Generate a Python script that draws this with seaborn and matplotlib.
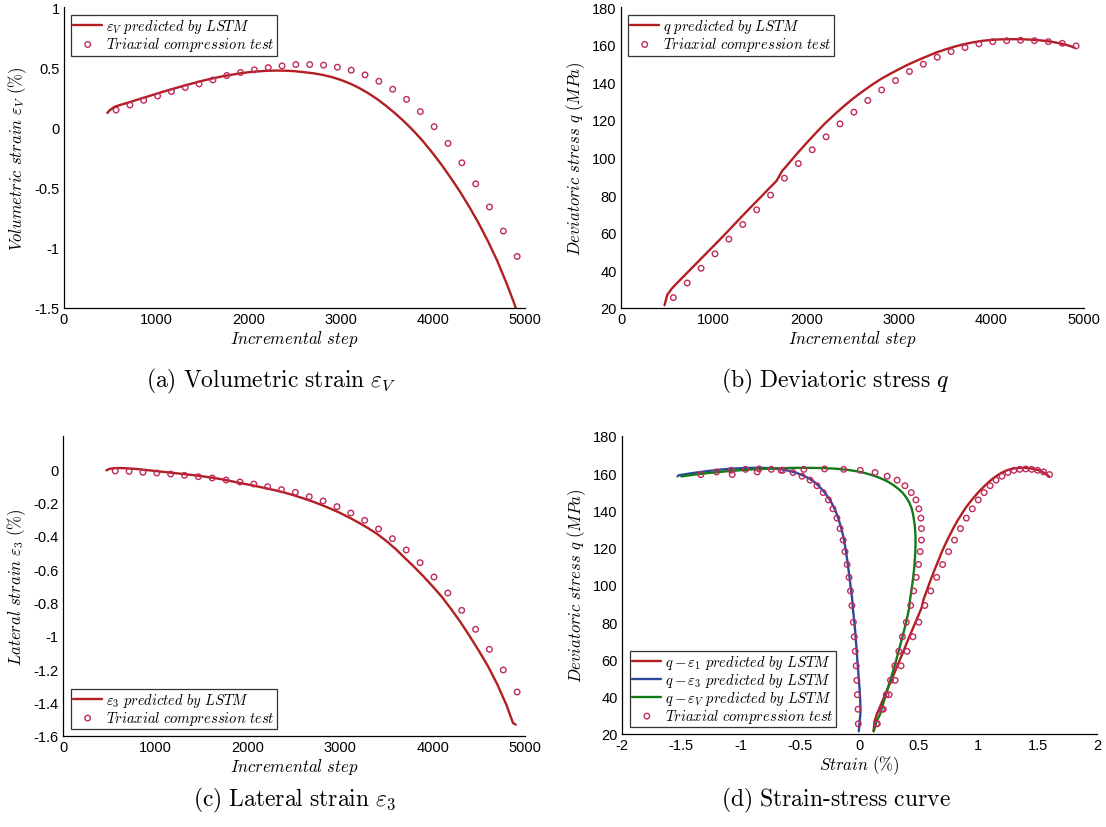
import numpy as np
import pandas as pd
import matplotlib
matplotlib.use("Agg")
import matplotlib.pyplot as plt
import seaborn as sns
from matplotlib.ticker import FuncFormatter

# ---------------- data ----------------
step_pred = [470, 500, 550, 600, 700, 800, 900, 1000, 1100, 1200, 1300, 1400, 1500, 1600,
             1680, 1740, 1800, 1900, 2000, 2100, 2200, 2300, 2400, 2500, 2600, 2700, 2800,
             2900, 3000, 3100, 3200, 3300, 3400, 3500, 3600, 3700, 3800, 3900, 4000, 4100,
             4200, 4300, 4400, 4500, 4600, 4700, 4800, 4870, 4900]
epsV_pred = [0.120, 0.145, 0.172, 0.184, 0.207, 0.231, 0.255, 0.279, 0.302, 0.324, 0.346,
             0.367, 0.387, 0.405, 0.418, 0.427, 0.435, 0.448, 0.458, 0.465, 0.470, 0.472,
             0.471, 0.467, 0.459, 0.450, 0.437, 0.419, 0.395, 0.365, 0.328, 0.284, 0.233,
             0.175, 0.111, 0.041, -0.036, -0.121, -0.215, -0.316, -0.425, -0.540, -0.665,
             -0.800, -0.948, -1.110, -1.295, -1.435, -1.500]
q_pred = [21.5, 27.0, 30.4, 33.0, 38.0, 43.0, 48.0, 53.0, 58.0, 63.2, 68.4, 73.5, 78.5,
          83.6, 87.6, 92.8, 96.2, 102.0, 107.5, 112.8, 118.0, 122.6, 127.0, 131.1, 134.8,
          138.3, 141.5, 144.3, 146.9, 149.4, 151.6, 153.7, 155.7, 157.4, 158.9, 160.2,
          161.2, 162.0, 162.5, 162.8, 162.9, 162.9, 162.7, 162.4, 161.9, 161.1, 160.0,
          158.9, 158.3]
eps3_pred = [-0.006, 0.002, 0.007, 0.008, 0.006, 0.002, -0.004, -0.010, -0.016, -0.022,
             -0.028, -0.034, -0.041, -0.049, -0.056, -0.062, -0.069, -0.080, -0.091, -0.102,
             -0.114, -0.126, -0.140, -0.156, -0.174, -0.193, -0.214, -0.237, -0.262, -0.290,
             -0.320, -0.352, -0.388, -0.430, -0.478, -0.532, -0.585, -0.642, -0.702, -0.765,
             -0.838, -0.915, -1.000, -1.088, -1.182, -1.290, -1.415, -1.522, -1.532]
eps1_pred = [0.118, 0.128, 0.145, 0.162, 0.195, 0.228, 0.262, 0.295, 0.328, 0.362, 0.395,
             0.428, 0.462, 0.495, 0.522, 0.542, 0.562, 0.595, 0.628, 0.662, 0.695, 0.728,
             0.762, 0.795, 0.828, 0.862, 0.895, 0.928, 0.962, 0.995, 1.028, 1.062, 1.095,
             1.128, 1.162, 1.195, 1.228, 1.262, 1.295, 1.328, 1.362, 1.395, 1.428, 1.462,
             1.495, 1.528, 1.562, 1.585, 1.595]

step_test = [565, 715, 865, 1015, 1165, 1315, 1465, 1615, 1765, 1915, 2065, 2215, 2365,
             2515, 2665, 2815, 2965, 3115, 3265, 3415, 3565, 3715, 3865, 4015, 4165, 4315,
             4465, 4615, 4765, 4915]
epsV_test = [0.144, 0.186, 0.225, 0.261, 0.297, 0.331, 0.361, 0.394, 0.431, 0.456, 0.478,
             0.497, 0.511, 0.522, 0.522, 0.517, 0.500, 0.475, 0.436, 0.383, 0.317, 0.233,
             0.131, 0.006, -0.133, -0.294, -0.469, -0.661, -0.861, -1.072]
q_test = [25.5, 33.3, 41.1, 48.8, 56.6, 64.4, 72.2, 80.0, 89.0, 96.8, 104.1, 111.0, 117.9,
          124.1, 130.3, 135.9, 140.9, 145.7, 149.6, 153.3, 156.3, 158.4, 160.4, 161.6,
          162.1, 162.3, 162.1, 161.6, 160.7, 159.3]
eps3_test = [-0.010, -0.012, -0.018, -0.022, -0.028, -0.036, -0.044, -0.052, -0.064, -0.076,
             -0.088, -0.104, -0.122, -0.138, -0.164, -0.190, -0.224, -0.262, -0.306, -0.358,
             -0.416, -0.484, -0.560, -0.646, -0.742, -0.846, -0.960, -1.080, -1.204, -1.336]
eps1_test = [0.15, 0.20, 0.25, 0.30, 0.35, 0.40, 0.45, 0.50, 0.55, 0.60, 0.65, 0.70, 0.75,
             0.80, 0.85, 0.90, 0.95, 1.00, 1.05, 1.10, 1.15, 1.20, 1.25, 1.30, 1.35, 1.40,
             1.45, 1.50, 1.55, 1.60]

captions = [r"$\mathrm{(a)\ Volumetric\ strain}\ \varepsilon_V$",
            r"$\mathrm{(b)\ Deviatoric\ stress}\ q$",
            r"$\mathrm{(c)\ Lateral\ strain}\ \varepsilon_3$",
            r"$\mathrm{(d)\ Strain\text{-}stress\ curve}$"]

pred = pd.DataFrame({"step": step_pred, "epsV": epsV_pred, "q": q_pred,
                     "eps3": eps3_pred, "eps1": eps1_pred})
test = pd.DataFrame({"step": step_test, "epsV": epsV_test, "q": q_test,
                     "eps3": eps3_test, "eps1": eps1_test})

# ---------------- style ----------------
sns.set_theme(style="white")
plt.rcParams.update({
    "font.family": ["Liberation Sans", "DejaVu Sans"],
    "mathtext.fontset": "cm",
    "axes.unicode_minus": False,
    "axes.edgecolor": "black",
    "axes.linewidth": 0.9,
    "xtick.color": "black",
    "ytick.color": "black",
    "text.color": "black",
    "axes.labelcolor": "black",
})

RED = "#B21E22"
BLUE = "#2B4A98"
GREEN = "#137A17"
MARK = "#C02A5C"
LW = 1.7

W, H = 1106, 828
fig = plt.figure(figsize=(W / 100, H / 100), dpi=100)


def box(l, t, r, b):
    return [l / W, 1 - b / H, (r - l) / W, (b - t) / H]


fmt = FuncFormatter(lambda v, p: f"{(0 if abs(v) < 1e-9 else v):g}")


def style(ax, xlim, ylim, xticks, yticks, xlabel, ylabel):
    ax.set_xlim(xlim)
    ax.set_ylim(ylim)
    ax.set_xticks(xticks)
    ax.set_yticks(yticks)
    ax.xaxis.set_major_formatter(fmt)
    ax.yaxis.set_major_formatter(fmt)
    sns.despine(ax=ax)
    ax.tick_params(direction="in", length=4, width=0.8, labelsize=10.5, pad=3,
                   colors="black")
    ax.set_xlabel(xlabel, fontsize=12, labelpad=1)
    ax.set_ylabel(ylabel, fontsize=12, labelpad=4)


def legend(ax, loc, anchor):
    leg = ax.legend(loc=loc, bbox_to_anchor=anchor, borderaxespad=0, fontsize=10.5,
                    frameon=True, fancybox=False, edgecolor="#333333", framealpha=1,
                    handlelength=2.0, handletextpad=0.25, labelspacing=0.0,
                    borderpad=0.15)
    leg.get_frame().set_linewidth(0.9)
    return leg


def markers(ax, x, y, label=r"$Triaxial\ compression\ test$"):
    sns.scatterplot(data=test, x=x, y=y, ax=ax, marker="o", color=MARK, facecolor="none",
                    edgecolor=MARK, linewidth=1.0, s=16, zorder=3, label=label)


# (a)
ax_a = fig.add_axes(box(64, 8, 525, 309))
sns.lineplot(data=pred, x="step", y="epsV", ax=ax_a, color=RED, lw=LW, sort=False,
             estimator=None, label=r"$\varepsilon_V\ predicted\ by\ LSTM$")
markers(ax_a, "step", "epsV")
style(ax_a, (0, 5000), (-1.5, 1), np.arange(0, 5001, 1000), np.arange(-1.5, 1.01, 0.5),
      r"$Incremental\ step$", r"$Volumetric\ strain\ \varepsilon_V\ (\%)$")
legend(ax_a, "upper left", (0.015, 0.973))

# (b)
ax_b = fig.add_axes(box(621, 8, 1084, 309))
sns.lineplot(data=pred, x="step", y="q", ax=ax_b, color=RED, lw=LW, sort=False,
             estimator=None, label=r"$q\ predicted\ by\ LSTM$")
markers(ax_b, "step", "q")
style(ax_b, (0, 5000), (20, 180), np.arange(0, 5001, 1000), np.arange(20, 181, 20),
      r"$Incremental\ step$", r"$Deviatoric\ stress\ q\ (MPa)$")
legend(ax_b, "upper left", (0.015, 0.973))

# (c)
ax_c = fig.add_axes(box(63, 437, 525, 737))
sns.lineplot(data=pred, x="step", y="eps3", ax=ax_c, color=RED, lw=LW, sort=False,
             estimator=None, label=r"$\varepsilon_3\ predicted\ by\ LSTM$")
markers(ax_c, "step", "eps3")
style(ax_c, (0, 5000), (-1.6, 0.2), np.arange(0, 5001, 1000), np.arange(-1.6, 0.01, 0.2),
      r"$Incremental\ step$", r"$Lateral\ strain\ \varepsilon_3\ (\%)$")
legend(ax_c, "lower left", (0.017, 0.023))

# (d)
ax_d = fig.add_axes(box(622, 437, 1097, 735))
sns.lineplot(data=pred, x="eps1", y="q", ax=ax_d, color=RED, lw=LW, sort=False,
             estimator=None, label=r"$q-\varepsilon_1\ predicted\ by\ LSTM$")
sns.lineplot(data=pred, x="eps3", y="q", ax=ax_d, color=BLUE, lw=LW, sort=False,
             estimator=None, label=r"$q-\varepsilon_3\ predicted\ by\ LSTM$")
sns.lineplot(data=pred, x="epsV", y="q", ax=ax_d, color=GREEN, lw=LW, sort=False,
             estimator=None, label=r"$q-\varepsilon_V\ predicted\ by\ LSTM$")
markers(ax_d, "eps1", "q")
markers(ax_d, "eps3", "q", label=None)
markers(ax_d, "epsV", "q", label=None)
style(ax_d, (-2, 2), (20, 180), np.arange(-2, 2.01, 0.5), np.arange(20, 181, 20),
      r"$Strain\ (\%)$", r"$Deviatoric\ stress\ q\ (MPa)$")
legend(ax_d, "lower left", (0.017, 0.023))

# captions
for (cx, cy), txt in zip([(271, 381), (835, 381), (295, 800), (836, 800)], captions):
    fig.text(cx / W, 1 - cy / H, txt, ha="center", va="center", fontsize=17)

fig.savefig("out.png", dpi=100, facecolor="white")
